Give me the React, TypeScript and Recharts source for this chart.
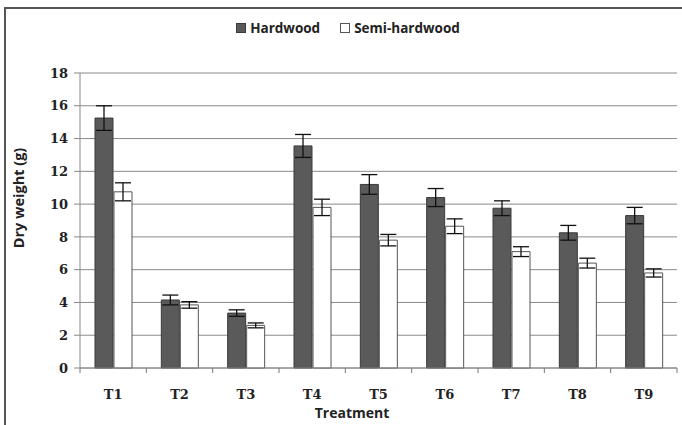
import {
  BarChart,
  Bar,
  XAxis,
  YAxis,
  CartesianGrid,
  ErrorBar,
} from 'recharts';

const treatments = ['T1', 'T2', 'T3', 'T4', 'T5', 'T6', 'T7', 'T8', 'T9'];
const hardwood = [15.25, 4.15, 3.35, 13.55, 11.2, 10.4, 9.75, 8.25, 9.3];
const hardwoodErr = [0.75, 0.3, 0.2, 0.7, 0.6, 0.55, 0.45, 0.45, 0.5];
const semiHardwood = [10.75, 3.85, 2.6, 9.8, 7.8, 8.65, 7.1, 6.4, 5.8];
const semiHardwoodErr = [0.55, 0.2, 0.15, 0.5, 0.35, 0.45, 0.3, 0.3, 0.25];
const yTicks = [0, 2, 4, 6, 8, 10, 12, 14, 16, 18];

const data = treatments.map((name, i) => ({
  name,
  hardwood: hardwood[i],
  hardwoodErr: hardwoodErr[i],
  semi: semiHardwood[i],
  semiErr: semiHardwoodErr[i],
}));

const SANS = '"Open Sans", sans-serif';
const SERIF = '"DejaVu Serif", serif';

// category label plus the small tick marks that sit between categories
function CategoryTick(props: any) {
  const { x, y, payload, index, visibleTicksCount, width } = props;
  const half = payload.offset ?? width / visibleTicksCount / 2;
  return (
    <g>
      <line x1={x - half} x2={x - half} y1={y} y2={y + 5} stroke="#777" />
      {index === visibleTicksCount - 1 && (
        <line x1={x + half} x2={x + half} y1={y} y2={y + 5} stroke="#777" />
      )}
      <text
        x={x}
        y={y + 26}
        dy="0.35em"
        textAnchor="middle"
        fill="#222"
        fontFamily={SERIF}
        fontWeight={700}
        fontSize={13}
      >
        {payload.value}
      </text>
    </g>
  );
}

function TopLegend() {
  const items = [
    { label: 'Hardwood', fill: '#5a5a5a', stroke: '#3a3a3a' },
    { label: 'Semi-hardwood', fill: '#ffffff', stroke: '#555555' },
  ];
  return (
    <div
      style={{
        position: 'absolute',
        left: 0,
        right: 0,
        top: 19,
        display: 'flex',
        justifyContent: 'center',
        gap: 20,
        paddingLeft: 14,
        fontFamily: SANS,
        fontWeight: 700,
        fontSize: 13.5,
        color: '#222',
      }}
    >
      {items.map((it) => (
        <div key={it.label} style={{ display: 'flex', alignItems: 'center', gap: 4 }}>
          <span style={{ width: 8, height: 8, background: it.fill, border: `1px solid ${it.stroke}`, display: 'inline-block' }} />
          <span>{it.label}</span>
        </div>
      ))}
    </div>
  );
}

export default function App() {
  return (
    <div style={{ position: 'relative', width: 682, height: 425, background: '#fff' }}>
      <style>{'body{margin:0}'}</style>
      <div style={{ position: 'absolute', left: 4, top: 7, right: 0, bottom: 0, borderLeft: '2px solid #555', borderTop: '2px solid #555' }} />
      <TopLegend />
      <BarChart
        width={682}
        height={425}
        data={data}
        margin={{ top: 73, right: 5, bottom: 17, left: 0 }}
        barSize={18}
        barGap={1}
      >
        <CartesianGrid vertical={false} stroke="#8a8a8a" strokeWidth={1} />
        <XAxis
          dataKey="name"
          height={40}
          tickLine={false}
          tickSize={0}
          tickMargin={0}
          interval={0}
          axisLine={{ stroke: '#888' }}
          tick={CategoryTick}
        />
        <YAxis
          domain={[0, 18]}
          ticks={yTicks}
          width={80}
          tickSize={6}
          tickMargin={6}
          axisLine={{ stroke: '#888' }}
          tickLine={{ stroke: '#888' }}
          tick={{ fill: '#222', fontFamily: SERIF, fontWeight: 700, fontSize: 13 }}
        />
        <Bar dataKey="hardwood" name="Hardwood" fill="#5a5a5a" stroke="#3a3a3a" isAnimationActive={false}>
          <ErrorBar dataKey="hardwoodErr" width={8} stroke="#111" strokeWidth={1.3} />
        </Bar>
        <Bar dataKey="semi" name="Semi-hardwood" fill="#ffffff" stroke="#555" isAnimationActive={false}>
          <ErrorBar dataKey="semiErr" width={8} stroke="#111" strokeWidth={1.3} />
        </Bar>
      </BarChart>
      <div
        style={{
          position: 'absolute',
          left: 18,
          top: 198,
          transform: 'translate(-50%, -50%) rotate(-90deg)',
          whiteSpace: 'nowrap',
          fontFamily: SANS,
          fontWeight: 700,
          fontSize: 14.5,
          color: '#222',
        }}
      >
        Dry weight (g)
      </div>
      <div
        style={{
          position: 'absolute',
          left: 352,
          top: 413,
          transform: 'translate(-50%, -50%)',
          whiteSpace: 'nowrap',
          lineHeight: '16px',
          fontFamily: SANS,
          fontWeight: 700,
          fontSize: 14,
          color: '#222',
        }}
      >
        Treatment
      </div>
    </div>
  );
}
